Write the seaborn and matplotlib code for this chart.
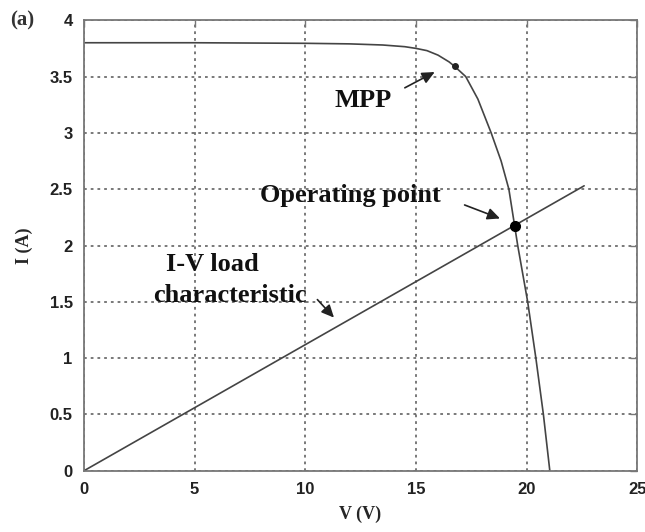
import matplotlib
matplotlib.use("Agg")
import matplotlib.pyplot as plt
import seaborn as sns
import pandas as pd

# I-V curve of the PV module
iv_voltage = [0, 5, 10, 12, 13.5, 14.5, 15, 15.5, 16, 16.5, 16.75, 17.25, 17.8,
              18.4, 18.85, 19.2, 19.6, 20.05, 20.42, 20.76, 21.05]
iv_current = [3.80, 3.80, 3.795, 3.79, 3.78, 3.765, 3.75, 3.73, 3.69, 3.63, 3.59,
              3.50, 3.30, 3.00, 2.75, 2.50, 2.00, 1.50, 1.00, 0.50, 0.0]

# load line
load_voltage = [0, 22.6]
load_current = [0, 2.53]

# special points
mpp = (16.75, 3.59)
operating_point = (19.48, 2.17)

x_ticks = [0, 5, 10, 15, 20, 25]
y_ticks = [0, 0.5, 1, 1.5, 2, 2.5, 3, 3.5, 4]
y_tick_labels = ["0", "0.5", "1", "1.5", "2", "2.5", "3", "3.5", "4"]

sns.set_style("white")
plt.rcParams['font.family'] = ['Liberation Serif', 'DejaVu Serif']

fig = plt.figure(figsize=(6.45, 5.32), dpi=100)
ax = fig.add_axes([0.130, 0.115, 0.858, 0.847])

iv_df = pd.DataFrame({"V": iv_voltage, "I": iv_current})
load_df = pd.DataFrame({"V": load_voltage, "I": load_current})
sns.lineplot(data=iv_df, x="V", y="I", ax=ax, color="#444444", lw=1.2, sort=False)
sns.lineplot(data=load_df, x="V", y="I", ax=ax, color="#444444", lw=1.2, sort=False)

ax.plot([mpp[0]], [mpp[1]], marker="o", ms=4, color="#222222", zorder=5)
ax.plot([operating_point[0]], [operating_point[1]], marker="o", ms=7,
        color="black", zorder=5)

ax.set_xlim(0, 25)
ax.set_ylim(0, 4)
ax.set_xticks(x_ticks)
ax.set_yticks(y_ticks)
ax.set_yticklabels(y_tick_labels)
ax.grid(True, color="#555555", linestyle=(0, (1.8, 2.6)), linewidth=1.1)

for s in ax.spines.values():
    s.set_color("#777777")
    s.set_linewidth(1.3)

ax.tick_params(direction="in", length=5, width=1, color="#777777",
               top=True, right=True, labelsize=12, pad=8)
for lab in ax.get_xticklabels() + ax.get_yticklabels():
    lab.set_family(['Liberation Sans Narrow', 'Liberation Sans', 'DejaVu Sans'])
    lab.set_fontweight("bold")
    lab.set_color("#222222")

ax.set_xlabel("V (V)", fontsize=13, fontweight="bold", labelpad=6)
ax.set_ylabel("I (A)", fontsize=13, fontweight="bold", labelpad=12)

arrow = dict(arrowstyle="-|>,head_length=0.75,head_width=0.35", color="#222222",
             lw=1.2, shrinkA=0, shrinkB=0)
txt = dict(fontsize=19, fontweight="bold", color="#111111")

ax.annotate("", xy=(15.85, 3.54), xytext=(14.5, 3.40), arrowprops=arrow)
ax.text(12.6, 3.29, "MPP", ha="center", va="center", **txt)

ax.annotate("", xy=(18.8, 2.24), xytext=(17.2, 2.36), arrowprops=arrow)
ax.text(12.05, 2.44, "Operating point", ha="center", va="center", **txt)

ax.annotate("", xy=(11.3, 1.36), xytext=(10.55, 1.52), arrowprops=arrow)
ax.text(5.8, 1.83, "I-V load", ha="center", va="center", **txt)
ax.text(6.6, 1.56, "characteristic", ha="center", va="center", **txt)

fig.text(0.035, 0.962, "(a)", fontsize=15, fontweight="bold", ha="center",
         va="center", color="#333333")

fig.savefig("out.png", dpi=100)
